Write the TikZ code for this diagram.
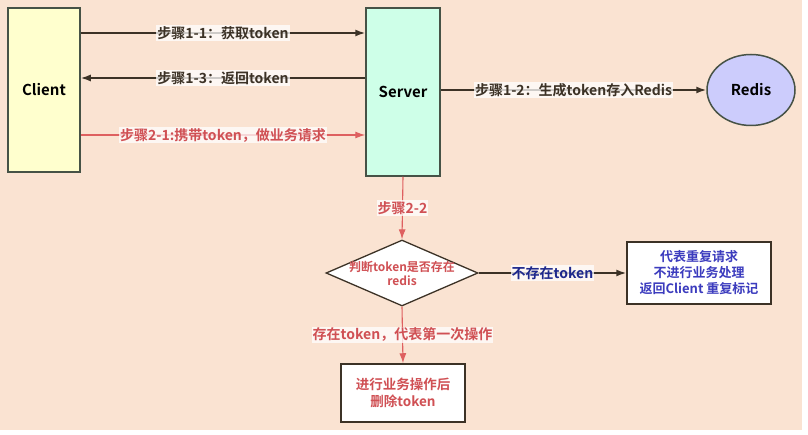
\documentclass[tikz,border=0pt]{standalone}
\usepackage{fontspec}
\setmainfont{Noto Sans CJK SC}[BoldFont={Noto Sans CJK SC Bold}]
\usetikzlibrary{shapes.geometric,arrows.meta}
\definecolor{bgpeach}{RGB}{250,227,210}
\definecolor{boxline}{RGB}{70,82,70}
\definecolor{arrowdark}{RGB}{60,50,38}
\definecolor{clientfill}{RGB}{255,255,206}
\definecolor{serverfill}{RGB}{206,255,232}
\definecolor{redisfill}{RGB}{204,204,252}
\definecolor{stepred}{RGB}{222,96,96}
\definecolor{textred}{RGB}{208,80,84}
\definecolor{textblue}{RGB}{60,60,190}
\definecolor{textnavy}{RGB}{30,40,140}
\tikzset{
	block/.style={draw=boxline, line width=1.5pt, font=\fontsize{15}{17}\selectfont\bfseries},
	steplabel/.style={fill=white, fill opacity=0.75, text opacity=1, inner sep=1pt, font=\fontsize{14}{16}\selectfont\bfseries},
	darkarrow/.style={-{Latex[length=10pt,width=7pt]}, arrowdark, line width=1.5pt},
	redarrow/.style={-{Latex[length=10pt,width=7pt]}, stepred, line width=1.1pt}
}
\begin{document}
\begin{tikzpicture}[x=1pt,y=-1pt]
	\useasboundingbox (0,0) rectangle (808,435);
	\fill [white] (0,0) rectangle (808,435);
	\fill [bgpeach] (0,0) rectangle (802,430);
	\node [block, fill=clientfill, minimum width=72, minimum height=164] (client) at (44,90) {Client};
	\node [block, fill=serverfill, minimum width=74, minimum height=168] (server) at (403,92) {Server};
	\node [block, ellipse, fill=redisfill, minimum width=88, minimum height=71] (redis) at (751,90) {Redis};
	\node [draw=arrowdark, line width=1.3pt, fill=white, diamond, minimum width=152, minimum height=66, inner sep=0pt,
		label={[align=center, text=textred, font=\fontsize{12}{14}\selectfont\bfseries]center:判断token是否存在\\redis}] (check) at (402,273) {};
	\node [draw=arrowdark, line width=1.5pt, fill=white, minimum width=144, minimum height=62, align=center, text=textblue, font=\fontsize{13}{16}\selectfont\bfseries] (repeat) at (699,273) {代表重复请求\\不进行业务处理\\返回Client 重复标记};
	\node [draw=arrowdark, line width=1.5pt, fill=white, minimum width=124, minimum height=58, align=center, text=textred, font=\fontsize{13.5}{17}\selectfont\bfseries] (work) at (403,393) {进行业务操作后\\删除token};
	\draw [darkarrow] (client.east |- 0,33) -- (server.west |- 0,33) node [steplabel, pos=0.5, text=arrowdark] {步骤1-1：获取token};
	\draw [darkarrow] (server.west |- 0,78) -- (client.east |- 0,78) node [steplabel, pos=0.5, text=arrowdark] {步骤1-3：返回token};
	\draw [redarrow] (client.east |- 0,135) -- (server.west |- 0,135) node [steplabel, pos=0.5, text=textred] {步骤2-1:携带token，做业务请求};
	\draw [darkarrow] (server.east |- redis.west) -- (redis.west) node [steplabel, pos=0.5, text=arrowdark] {步骤1-2：生成token存入Redis};
	\draw [redarrow] (server.south) -- (check.north) node [steplabel, pos=0.5, text=textred] {步骤2-2};
	\draw [darkarrow] (check.east) -- (repeat.west) node [steplabel, pos=0.5, text=textnavy] {不存在token};
	\draw [redarrow] (check.south) -- (work.north) node [steplabel, pos=0.5, text=textred] {存在token，代表第一次操作};
\end{tikzpicture}
\end{document}
